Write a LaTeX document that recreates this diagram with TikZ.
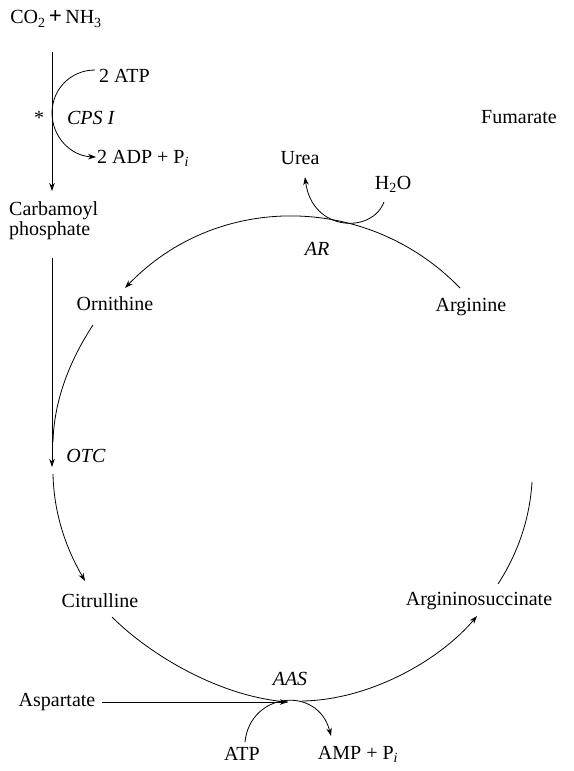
\documentclass[tikz,border=0pt]{standalone}
\usepackage{fontspec}
\setmainfont{Liberation Serif}
\usetikzlibrary{arrows.meta}
\begin{document}
\begin{tikzpicture}[x=1pt,y=-1pt,
  lbl/.style={inner sep=0pt, font=\fontsize{20}{23}\selectfont},
  conn/.style={line width=0.8pt},
  arr/.style={conn,-{Stealth[length=8pt,width=5.5pt]}}]
\useasboundingbox (0,0) rectangle (573,771);
% labels
\node[lbl] (co2) at (56,19) {CO\textsubscript{2}\,{\fontsize{23}{23}\selectfont\textbf{+}}\,NH\textsubscript{3}};
\node[lbl,anchor=west] (atpA) at (99,76) {2 ATP};
\node[lbl] (star) at (39,118) {*};
\node[lbl] (cps) at (91,118) {\textit{CPS I}};
\node[lbl,anchor=west] (adp) at (97,158) {2 ADP + P\textsubscript{\textit{i}}};
\node[lbl,anchor=north west,align=left] (carb) at (9,201) {Carbamoyl\\[-3pt]phosphate};
\node[lbl] (fum) at (519,117) {Fumarate};
\node[lbl] (urea) at (300,158) {Urea};
\node[lbl] (h2o) at (393,184) {H\textsubscript{2}O};
\node[lbl] (ar) at (317,249) {\textit{AR}};
\node[lbl] (orn) at (115,304) {Ornithine};
\node[lbl] (arg) at (471,307) {Arginine};
\node[lbl] (otc) at (86,456) {\textit{OTC}};
\node[lbl] (cit) at (100,601) {Citrulline};
\node[lbl] (argsuc) at (479,601) {Argininosuccinate};
\node[lbl] (aas) at (290,679) {\textit{AAS}};
\node[lbl] (asp) at (57,702) {Aspartate};
\node[lbl] (atpB) at (242,754) {ATP};
\node[lbl] (amp) at (358,754) {AMP + P\textsubscript{\textit{i}}};
% connector end points
\coordinate (v1s) at (52,52);
\coordinate (v1e) at (52,191);
\coordinate (cpsS) at (95,70);
\coordinate (cpsE) at (96,157);
\coordinate (v2s) at (52,258);
\coordinate (v2e) at (52,467);
\coordinate (ornS) at (93,325);
\coordinate (ornE) at (53,442);
\coordinate (otcS) at (53,474);
\coordinate (otcE) at (85,581);
\coordinate (argS) at (460,288);
\coordinate (ornArr) at (125,288);
\coordinate (h2oS) at (384,202);
\coordinate (ureaE) at (305,177);
\coordinate (citS) at (112,617);
\coordinate (aasM) at (288,702);
\coordinate (aspS) at (102,702);
\coordinate (aasS) at (302,701);
\coordinate (asE) at (477,616);
\coordinate (asS) at (498,584);
\coordinate (fumE) at (532,482);
\coordinate (atpS) at (245,742);
\coordinate (ampE) at (331,736);
% connectors
\draw[arr] (v1s) -- (v1e);
\draw[arr] (cpsS) .. controls (71,70) and (52,89) .. (52,113)
  .. controls (52,137) and (71,156) .. (cpsE);
\draw[arr] (v2s) -- (v2e);
\draw[conn] (ornS) .. controls (70,360) and (54,400) .. (ornE);
\draw[arr] (otcS) .. controls (54,520) and (70,555) .. (otcE);
\draw[arr] (argS) .. controls (368,193) and (217,192) .. (ornArr);
\draw[arr] (h2oS) .. controls (372,234) and (312,232) .. (ureaE);
\draw[conn] (citS) .. controls (150,655) and (220,697) .. (aasM);
\draw[arr] (aspS) -- (aasM);
\draw[arr] (aasS) .. controls (370,700) and (440,660) .. (asE);
\draw[conn] (asS) .. controls (520,550) and (530,515) .. (fumE);
\draw[arr] (atpS) .. controls (250,692) and (318,685) .. (ampE);
\end{tikzpicture}
\end{document}
